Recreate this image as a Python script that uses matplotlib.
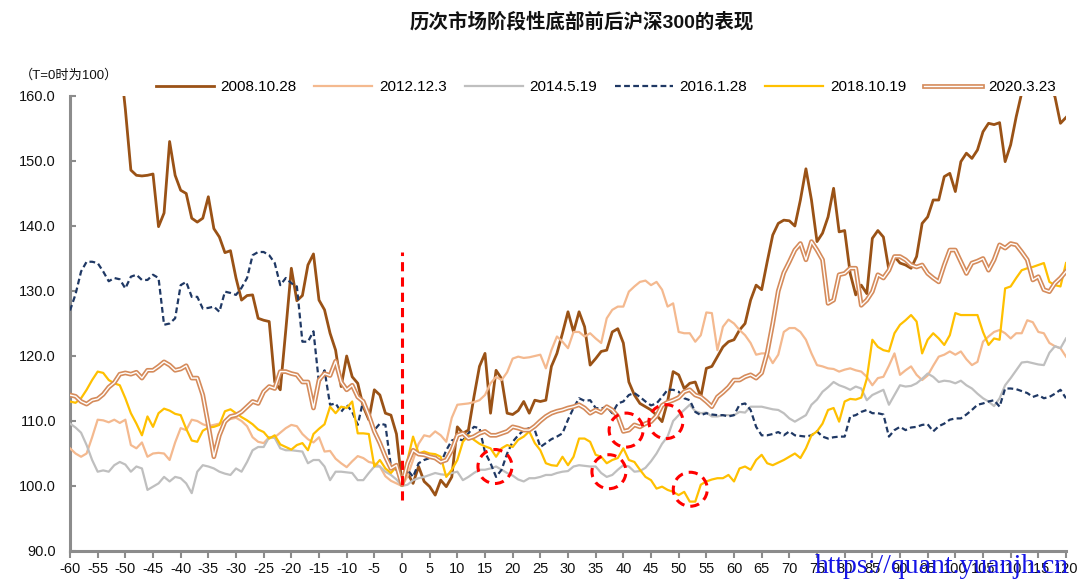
import numpy as np
import matplotlib
matplotlib.use("Agg")
import matplotlib.pyplot as plt
from matplotlib import patheffects as pe
from matplotlib.patches import Ellipse

plt.rcParams['font.family'] = ['Liberation Sans', 'Noto Sans CJK SC', 'DejaVu Sans']
plt.rcParams['axes.unicode_minus'] = False

days = list(range(-60, 121))

s2008 = [171, 172, 170, 171, 169, 170, 168, 169, 167,
         166, 158, 148.6, 147.8, 147.7, 147.8, 148, 139.9, 142, 153,
         147.8, 145.5, 145, 141.2, 140.6, 141.2, 144.5, 139.6, 138.3, 135.9,
         136.2, 132, 128.6, 129.3, 129.4, 125.8, 125.5, 125.3, 116, 114.8,
         124, 133.5, 128.5, 129.3, 134, 135.7, 128.6, 127.1, 123.5, 120.9,
         115.3, 120, 116.8, 115.8, 112.2, 110.2, 114.8, 114, 111.2, 110.9,
         108, 100.3,
         102, 100.4, 103, 100.7, 99.9, 98.6, 100.9, 99.9, 101.4, 109.1,
         108.1, 108.6, 113.7, 118.4, 120.4, 111.2, 117.8, 116.5, 111.2, 111,
         111.6, 113, 111.2, 113.2, 113, 113.2, 118.4, 120.4, 123.5, 126.8,
         123.7, 126.8, 124.5, 118.6, 119.6, 120.7, 120.9, 123.7, 124.2, 122,
         116, 114, 112.7, 112.2, 111.7, 110.9, 109.9, 113, 117.6, 117.1,
         115, 115.8, 116, 113.7, 118.1, 118.4, 119.9, 121.4, 122.2, 122.5,
         124, 125, 128.6, 130.9, 130.2, 134.5, 138.6, 140.4, 140.9, 140.8,
         140, 144, 148.8, 144, 137.6, 138.9, 141.4, 145.8, 139.1, 139.3,
         132.7, 129.4, 130.9, 129.6, 138.1, 139.3, 138.3, 133.2, 135.3, 134.3,
         134, 133.5, 135.3, 140.4, 141.4, 144, 144, 147.6, 148.1, 145.3,
         149.9, 151.2, 150.4, 151.7, 154.5, 155.8, 155.6, 155.9, 149.9, 152.5,
         156.8, 160.5, 163, 164, 163, 163.5, 161.5, 159.9, 155.8, 156.7]

s2012 = [105.8, 105, 104.5, 105, 107.5, 110.2, 110.1, 109.8, 110.2, 109.7,
         110.2, 106.3, 105.8, 106.7, 104.5, 105, 105.1, 105, 104, 106.7,
         108.9, 108.6, 110.2, 110, 109.5, 109.2, 109.4, 109.6, 110, 110.3,
         110.5, 110, 109.2, 107.5, 106.8, 106.6, 107.5, 107.5, 108.2, 108.9,
         109.4, 109.2, 108, 107.2, 106.7, 107.5, 105.3, 105.4, 104.2, 103.5,
         102.9, 103.8, 104.6, 104.3, 103.7, 103.5, 103, 101.5, 100.8, 100.4,
         100,
         101.5, 104, 106.5, 107.8, 107.6, 108.4, 107.8, 106.8, 110.5, 112.5,
         112.6, 112.7, 112.9, 113.2, 114, 115.8, 116.8, 116.3, 117.5, 119.6,
         119.9, 119.7, 119.8, 120, 120.2, 118.1, 120.9, 123, 122.2, 121.2,
         123.7, 123.7, 123, 123.5, 122.7, 122, 125.8, 127.1, 127.6, 127.6,
         129.9, 130.7, 131.4, 131.6, 130.9, 131.4, 130.2, 127.6, 128.1, 123.7,
         123.5, 123.5, 122.2, 123.2, 126.7, 126.6, 120.9, 124.5, 125.6, 125,
         124, 123.2, 122, 120.2, 120.4, 120.4, 118.9, 120.2, 123.7, 124.3,
         124.3, 123.7, 122.5, 120.4, 118.6, 118.4, 118.1, 118, 117.6, 117.9,
         118.1, 117.8, 117.6, 116.8, 115.5, 116.6, 116.8, 118.5, 120.4, 117.1,
         117.8, 118.4, 117.1, 116.3, 117, 118.5, 119.9, 120.2, 120.7, 120.2,
         120.7, 119.5, 118.6, 119.1, 122.2, 123, 123.7, 124, 123.5, 122.7,
         123.5, 123.5, 125.5, 125.2, 123.7, 123.5, 122, 121.5, 121.2, 119.9]

s2014 = [109.6, 109, 108.2, 106.3, 104, 102.2, 102.4, 102.2, 103.2, 103.7,
         103.3, 102.2, 103, 102.7, 99.4, 99.9, 100.4, 101.4, 100.7, 101.4,
         101.2, 100.4, 98.9, 102.2, 103.2, 103, 102.7, 102.2, 101.9, 101.7,
         102.7, 102.2, 103.7, 105.5, 106, 106, 107.5, 107.4, 105.8, 105.5,
         105.5, 105.4, 105.3, 103.5, 104, 104, 103, 100.9, 102.2, 102.2,
         102.1, 102, 100.9, 100.9, 102, 103, 103, 102.2, 101.7, 101,
         100,
         100.2, 100.9, 101.2, 101.4, 101.7, 102, 101.8, 101.7, 102, 102.2,
         100.9, 101.4, 102, 102.5, 102.5, 102.7, 103, 102.5, 102, 101.6,
         101, 100.7, 101.2, 101.2, 101.4, 101.7, 101.7, 102, 102.2, 102.3,
         103, 103.2, 103.1, 103, 103, 102, 101.4, 101.7, 102.5, 103.2,
         103, 102.2, 102.3, 102.8, 103.8, 105, 106.5, 107.6, 110, 110.9,
         111.7, 112.5, 111.5, 111.2, 111.3, 110.7, 110.7, 110.9, 110.9, 110.9,
         111.4, 111.3, 112.2, 112.2, 112.2, 112, 111.8, 111.7, 111.2, 110.4,
         109.9, 110.4, 110.9, 112.5, 113.3, 114.5, 115.2, 116, 115.5, 115.2,
         114.8, 115.3, 115, 113.2, 114, 114.4, 114.8, 112.5, 114, 115.5,
         115.3, 115.4, 115.8, 116.5, 117.3, 116.8, 116, 116.2, 116.1, 115.8,
         116.2, 115.5, 115, 114.2, 113.5, 113, 112.3, 113.5, 115.5, 116.6,
         117.8, 119, 119.1, 118.9, 118.7, 118.6, 120.5, 121.5, 121.2, 122.7]

s2016 = [127, 129.5, 133, 134.5, 134.5, 134.3, 133, 131.5, 132, 131.8,
         130.4, 132.2, 132.5, 131.7, 131.7, 132.5, 132, 124.8, 125, 125.8,
         130.9, 131.4, 129.1, 129.1, 127.3, 127.4, 127.6, 126.8, 129.9, 129.7,
         129.4, 130.5, 132, 135.5, 136, 136, 135.5, 134.3, 130.9, 132,
         131.2, 130.7, 122.2, 122.2, 123.8, 115.8, 117.8, 112.5, 112.7, 111.4,
         112.5, 111.4, 109.4, 113.2, 110.7, 108.6, 109.6, 109.4, 103, 102.5,
         100.5,
         102.5, 101.4, 103.5, 104, 104.3, 104.5, 103.5, 105.5, 107, 107.3,
         107, 108.1, 109.1, 108.9, 105.2, 103.5, 101.4, 102.5, 105, 106.8,
         107.8, 108.6, 108.9, 108.6, 106, 106.6, 107.2, 107.6, 108.1, 110.2,
         112, 113.5, 113.1, 113.2, 112, 111.9, 112.2, 111.2, 112.7, 113,
         114, 114.3, 113.7, 113, 112.4, 112.7, 113.7, 114.8, 114.8, 114.5,
         113.5, 113.2, 111.4, 110.9, 111.2, 111, 110.9, 110.9, 110.7, 110.9,
         112.5, 112.7, 111.7, 109.1, 107.8, 107.8, 108, 108.3, 107.8, 108.4,
         107.8, 107.7, 107.6, 107.8, 108.4, 107.6, 107.3, 107.5, 107.6, 107.6,
         110.7, 110.9, 111.4, 111.7, 111.2, 111.2, 111, 107.6, 108.6, 109.1,
         108.6, 109, 109.1, 109.4, 109.5, 108.4, 109.2, 109.6, 110.2, 110.4,
         110.4, 111, 111.7, 112.5, 112.7, 113, 113.2, 112.2, 115, 115,
         114.9, 114.6, 114.3, 113.7, 114, 113.5, 113.7, 114.2, 114.8, 113.5]

s2018 = [113, 112.8, 113.5, 114.8, 116.3, 117.6, 117.4, 116.3, 115.8, 115.5,
         113.5, 111.2, 109.6, 107.8, 110.7, 109.1, 111.2, 111.9, 111.6, 111.1,
         110.9, 108.8, 107, 106.8, 108.5, 109, 109.1, 109.4, 111.5, 111.8,
         111.2, 110.6, 110.1, 109.5, 108.7, 108.3, 107.3, 107.8, 106.4, 106,
         105.6, 106.3, 106.6, 105.5, 108, 108.8, 109.5, 112.2, 111.2, 112.2,
         112, 113, 108.1, 108.1, 108, 103, 104, 102.7, 102, 103,
         100.5,
         104, 107.6, 105, 105.3, 105, 104.9, 104.5, 101.4, 102.5, 104,
         106.8, 107.8, 107.1, 106.5, 106.1, 105.8, 104.5, 105.8, 106.3, 106,
         107.1, 107.6, 108.4, 106.6, 105.5, 103.5, 103.2, 103.1, 104.5, 103.2,
         104.5, 107.3, 107.3, 106.8, 104.8, 104.5, 103.5, 104, 104.3, 105.8,
         104, 103.7, 102.5, 101.4, 100.9, 99.6, 99.9, 99.4, 99.1, 98.6,
         99.1, 97.6, 97.6, 100.2, 100.7, 101, 101.2, 101.2, 101.7, 100.7,
         102.7, 103, 102.5, 104, 104.8, 103.5, 103.2, 103.6, 104, 104.5,
         105, 104.3, 105.8, 107.8, 108.4, 109.6, 111.7, 112, 109.9, 113,
         113.4, 113.3, 113.6, 116.5, 122.5, 121.4, 120.9, 120.7, 123.5, 124.8,
         125.5, 126.3, 125.3, 120.4, 122.5, 123.5, 122.7, 121.7, 123.2, 126.6,
         126.3, 126.3, 126.3, 126.3, 123.7, 121.7, 122.7, 122.5, 130.4, 130.7,
         132, 133.2, 133.5, 133.7, 134, 134.3, 131.4, 130.9, 130.7, 134.3]

s2020 = [114, 113.8, 113, 112.6, 113.2, 113.4, 114.1, 115.2, 115.9, 117.2,
         117.4, 117.2, 117.5, 116.6, 117.8, 117.8, 118.4, 119.1, 118.6, 117.8,
         118, 118.5, 116.6, 116.6, 114, 109.4, 104.5, 107.8, 109.9, 110.7,
         110.9, 111.4, 112.2, 113, 112.7, 114.5, 115.3, 115, 117.6, 117.6,
         117.3, 117.1, 116, 116, 112, 116.3, 117.3, 117, 119.2, 116,
         114.8, 115.5, 113.7, 113, 110.9, 108.4, 106.6, 104.5, 102.7, 103.2,
         100.2,
         103.5, 105.5, 104.9, 104.8, 104.5, 104.3, 103.7, 104, 105.5, 107.8,
         108.1, 107.3, 107.6, 108.1, 108.4, 107.8, 107.8, 108.1, 108.4, 109.1,
         108.9, 108.6, 108.6, 109.2, 110, 110.7, 111.2, 111.5, 111.7, 112,
         112.2, 112.5, 112, 111.2, 111.7, 111.3, 112.2, 111.7, 110.7, 108.4,
         108.6, 109.4, 109.1, 109.6, 109.9, 110.8, 112.4, 112.9, 113.2, 113.6,
         114.5, 114.8, 114, 113.7, 113, 112.2, 113.7, 114.4, 115.2, 116.3,
         116.3, 116.8, 117.1, 116.6, 117.4, 120.5, 125, 130, 132.8, 134.5,
         136.3, 137.3, 134.8, 137.6, 136.3, 134.8, 128.1, 128.6, 132.5, 132.7,
         133.5, 133.5, 127.8, 128.6, 129.9, 132.5, 132, 133.2, 135.3, 135.3,
         134.8, 134, 133.7, 134, 132.7, 132, 131.4, 134, 136.3, 136.3,
         134.5, 132.7, 134.3, 134.6, 135, 133.2, 134.8, 137.1, 136.6, 137.3,
         137.1, 136, 134.8, 131.7, 132.2, 130.2, 129.9, 131.2, 132, 133]

labels = ['2008.10.28', '2012.12.3', '2014.5.19', '2016.1.28', '2018.10.19', '2020.3.23']
title = '历次市场阶段性底部前后沪深300的表现'
unit_note = '（T=0时为100）'
watermark = 'https://quant.yuanjh.cn'

# highlighted points (day, value) marked with dashed circles
highlight_days = [16.8, 37.4, 40.5, 47.7, 52.1]
highlight_vals = [103.0, 102.2, 108.6, 109.9, 99.5]
t0_line_range = (97.8, 136.0)

fig = plt.figure(figsize=(10.8, 5.88), dpi=100)
ax = fig.add_axes([70/1080, 1-551/588, (1066-70)/1080, (551-96)/588])

lw = 1.6
ax.plot(days, s2008, color='#9A5216', lw=2.0, label=labels[0], zorder=3)
ax.plot(days, s2012, color='#F4B98F', lw=lw, label=labels[1], zorder=3)
ax.plot(days, s2014, color='#BFBFBF', lw=lw, label=labels[2], zorder=3)
ax.plot(days, s2016, color='#1F3864', lw=lw, ls=(0, (2.6, 1.5)), label=labels[3], zorder=3)
ax.plot(days, s2018, color='#FFC000', lw=lw, label=labels[4], zorder=3)
ax.plot(days, s2020, color='white', lw=1.0, label=labels[5], zorder=4,
        path_effects=[pe.Stroke(linewidth=3.4, foreground='#D58B5B'), pe.Normal()])

ax.vlines(0, t0_line_range[0], t0_line_range[1], colors='#FF0000', lw=2.2,
          linestyles=(0, (3, 2)), zorder=5)

for d, v in zip(highlight_days, highlight_vals):
    e = Ellipse((d, v), width=34/5.533, height=34/6.5, fill=False, ec='#FF0000',
                lw=2.2, ls=(0, (3, 2)), zorder=6)
    ax.add_patch(e)

ax.set_xlim(-60, 120)
ax.set_ylim(90, 160)
ax.set_xticks(range(-60, 121, 5))
ax.set_xticklabels([str(v) for v in range(-60, 121, 5)])
ax.set_yticks(range(90, 161, 10))
ax.set_yticklabels([f'{v:.1f}' for v in range(90, 161, 10)])

for s in ['top', 'right']:
    ax.spines[s].set_visible(False)
for s in ['left', 'bottom']:
    ax.spines[s].set_color('#8C8C8C')
    ax.spines[s].set_linewidth(2.2)
ax.tick_params(axis='x', direction='out', length=5, width=1.5, color='#8C8C8C',
               labelsize=10.5, pad=3, labelcolor='#111111')
ax.tick_params(axis='y', direction='in', length=4, width=1.5, color='#8C8C8C',
               labelsize=10.5, pad=10, labelcolor='#111111')

leg = fig.legend(loc='center', bbox_to_anchor=(606/1080, 1-87/588), ncol=6,
                 frameon=False, fontsize=11, handlelength=3.8, handletextpad=0.45,
                 columnspacing=1.15)

fig.text(582/1080, 1-22/588, title, ha='center', va='center', fontsize=14,
         fontweight='bold', color='#111111')
fig.text(20/1080, 1-75/588, unit_note, ha='left', va='center', fontsize=9.5,
         color='#111111')
fig.text(815/1080, 1-573/588, watermark, ha='left', va='baseline', fontsize=20,
         color='#1414E6', family=['Liberation Serif', 'DejaVu Serif'], zorder=10)

fig.savefig('out.png', dpi=100)
